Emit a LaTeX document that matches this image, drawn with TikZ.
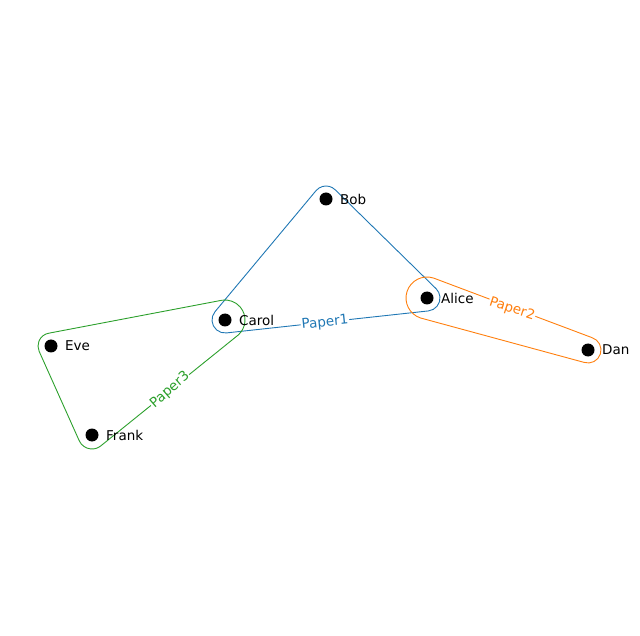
\documentclass[tikz,border=0pt]{standalone}
\usepackage{fontspec}
\setmainfont{DejaVu Sans}
\usetikzlibrary{calc}
\definecolor{mblue}{HTML}{1F77B4}
\definecolor{morange}{HTML}{FF7F0E}
\definecolor{mgreen}{HTML}{2CA02C}
\tikzset{
  dot/.style={circle,fill=black,inner sep=0pt,minimum size=13pt},
  lab/.style={font=\fontsize{13.5}{15}\selectfont,anchor=west,inner sep=0pt},
  hull/.style={line width=0.9pt},
  elab/.style={font=\fontsize{13.5}{15}\selectfont,fill=white,inner sep=1pt}
}
\begin{document}
\begin{tikzpicture}[x=1pt,y=1pt]
\useasboundingbox (0,0) rectangle (640,-636);
\coordinate (B) at (326,-199);
\coordinate (A) at (427,-298);
\coordinate (C) at (225,-320);
\coordinate (E) at (51,-346);
\coordinate (F) at (92,-435);
\coordinate (D) at (588,-350);
% blue hull
\draw[hull,mblue] ($(C)+(-83.8:13)$) -- ($(A)+(-83.8:13)$) arc[start angle=-83.8,end angle=45.6,radius=13]
  -- ($(B)+(45.6:13)$) arc[start angle=45.6,end angle=140.1,radius=13]
  -- ($(C)+(140.1:13)$) arc[start angle=140.1,end angle=276.2,radius=13] -- cycle;
% orange hull
\draw[hull,morange] ($(A)+(72.1:21)$) arc[start angle=72.1,end angle=252.1,radius=21]
  -- ($(D)+(252.1:13)$) arc[start angle=252.1,end angle=432.1,radius=13] -- cycle;
% green hull
\draw[hull,mgreen] ($(C)+(98.5:20)$) -- ($(E)+(98.5:13)$) arc[start angle=98.5,end angle=204.7,radius=13]
  -- ($(F)+(204.7:14)$) arc[start angle=204.7,end angle=310.9,radius=14]
  -- ($(C)+(310.9:20)$) arc[start angle=310.9,end angle=458.5,radius=20] -- cycle;
\node[elab,text=mblue,rotate=6] (p1) at (325,-323) {Paper1};
\node[elab,text=morange,rotate=-18] (p2) at (512,-309) {Paper2};
\node[elab,text=mgreen,rotate=41] (p3) at (170,-390) {Paper3};
\foreach \n/\t in {B/Bob,A/Alice,C/Carol,E/Eve,F/Frank,D/Dan}{
  \node[dot] (d\n) at (\n) {};
  \node[lab] (l\n) at ($(\n)+(14,0)$) {\t};
}
\end{tikzpicture}
\end{document}
